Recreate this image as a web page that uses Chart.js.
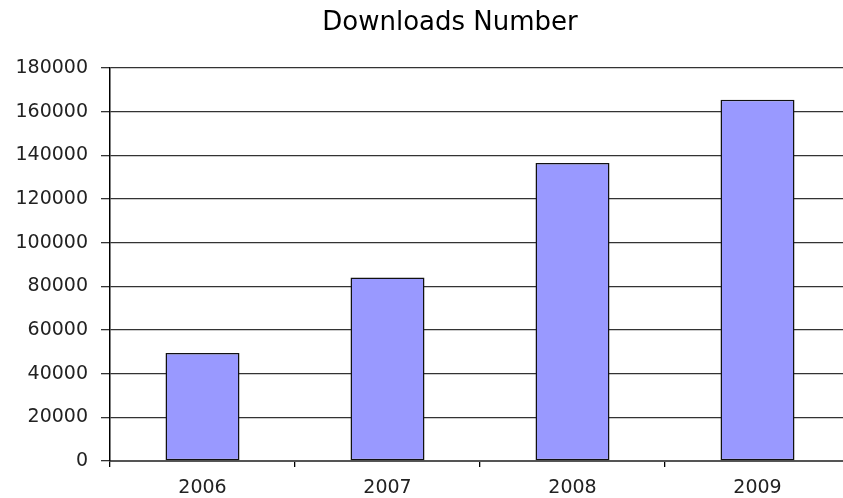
<!DOCTYPE html>
<html>
<head>
<meta charset="utf-8">
<script src="https://cdn.jsdelivr.net/npm/chart.js@4"></script>
<style>
  html, body { margin: 0; padding: 0; background: #fff; overflow: hidden; }
  #wrap { width: 850px; height: 498px; }
</style>
</head>
<body>
<div id="wrap"><canvas id="downloadsChart"></canvas></div>
<script>
// chart data
const years = ["2006", "2007", "2008", "2009"];
const downloads = [49500, 84000, 136500, 165500];
const yTicks = [0, 20000, 40000, 60000, 80000, 100000, 120000, 140000, 160000, 180000];
const chartTitle = "Downloads Number";

const tickFont = {family: "DejaVu Sans", size: 19};

// the title sits a little right of the canvas centre in the original
const titlePlugin = {
  id: "offsetTitle",
  afterDraw: function(chart){
    const ctx = chart.ctx;
    ctx.save();
    ctx.font = "26px 'DejaVu Sans'";
    ctx.fillStyle = "#000";
    ctx.textAlign = "center";
    ctx.textBaseline = "middle";
    ctx.fillText(chartTitle, 450, 23);
    ctx.restore();
  }
};

new Chart("downloadsChart", {
  type: "bar",
  data: {
    labels: years,
    datasets: [{
      data: downloads,
      backgroundColor: "#9999ff",
      borderColor: "#111",
      borderWidth: 1.5,
      borderSkipped: false,
      barPercentage: 0.4,
      categoryPercentage: 1.0
    }]
  },
  plugins: [titlePlugin],
  options: {
    responsive: true,
    maintainAspectRatio: false,
    animation: false,
    layout: {padding: {left: 0, top: 68, bottom: 0, right: 0}},
    plugins: {
      legend: {display: false},
      tooltip: {enabled: false},
      title: {display: false}
    },
    scales: {
      x: {
        grid: {
          drawOnChartArea: false,
          drawTicks: true,
          tickLength: 6,
          color: "#000",
          lineWidth: 1.3
        },
        border: {color: "#555", width: 2},
        ticks: {color: "#222", font: tickFont, padding: 10},
        afterFit: function(scale){ scale.height = 37; }
      },
      y: {
        min: 0,
        max: 180000,
        afterBuildTicks: function(scale){
          scale.ticks = yTicks.map(v => ({value: v}));
        },
        grid: {
          color: "#333",
          lineWidth: 1.3,
          tickLength: 9
        },
        border: {color: "#000", width: 1.5},
        ticks: {
          color: "#222",
          font: tickFont,
          padding: 13,
          callback: function(v){ return String(v); }
        },
        afterFit: function(scale){ scale.width = 110; }
      }
    }
  }
});
</script>
</body>
</html>
